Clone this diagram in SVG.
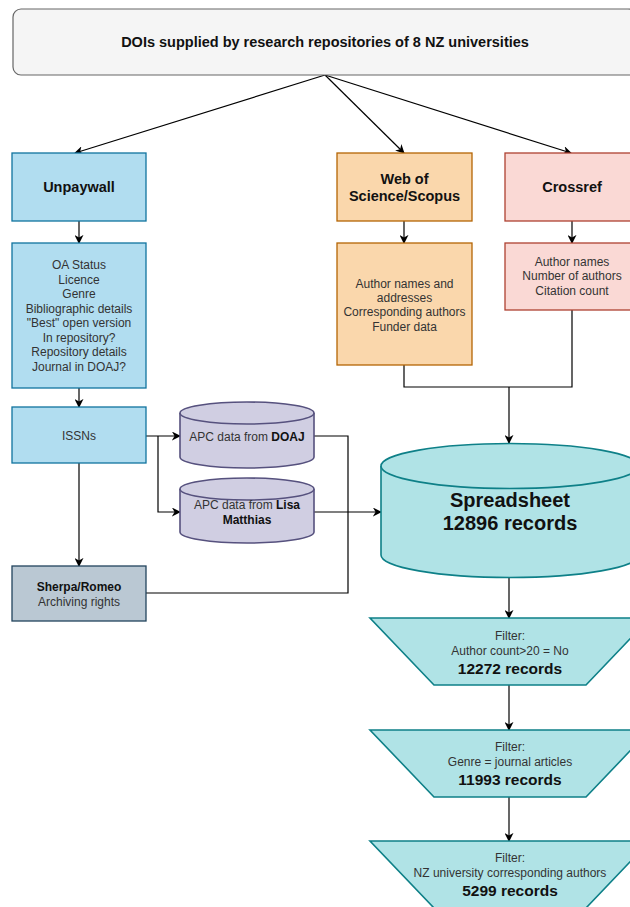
<svg xmlns="http://www.w3.org/2000/svg" width="630" height="907" viewBox="0 0 630 907">
<defs>
<marker id="arr" viewBox="0 0 10 10" refX="9" refY="5" markerWidth="9" markerHeight="9" markerUnits="userSpaceOnUse" orient="auto">
<path d="M0,0 L10,5 L0,10 L3,5 Z" fill="#000"/>
</marker>
<style>
text{font-family:"Liberation Sans",Arial,sans-serif;text-anchor:middle;fill:#333}
.t{font-size:14.5px;font-weight:bold;fill:#111}
.d{font-size:12px}
.b{font-weight:bold;fill:#111}
.big{font-size:20px;font-weight:bold;fill:#111}
.rec{font-size:15.5px;font-weight:bold;fill:#111}
.blue{fill:#b1ddf0;stroke:#10739e;stroke-width:1.3}
.org{fill:#fad7ac;stroke:#b46504;stroke-width:1.3}
.red{fill:#fad9d5;stroke:#ae4132;stroke-width:1.3}
.pur{fill:#d0cee2;stroke:#56517e;stroke-width:1.6}
.teal{fill:#b0e3e6;stroke:#0e8088;stroke-width:1.6}
.gry{fill:#bac8d3;stroke:#23445d;stroke-width:1.3}
.c{fill:none;stroke:#000;stroke-width:1.2}
</style>
</defs>

<g id="connectors">
<line class="c" x1="325" y1="75" x2="75" y2="153" marker-end="url(#arr)"/>
<line class="c" x1="325" y1="75" x2="404" y2="153" marker-end="url(#arr)"/>
<line class="c" x1="325" y1="75" x2="571" y2="153" marker-end="url(#arr)"/>
<line class="c" x1="79" y1="221" x2="79" y2="243" marker-end="url(#arr)"/>
<line class="c" x1="404" y1="221" x2="404" y2="243" marker-end="url(#arr)"/>
<line class="c" x1="572" y1="221" x2="572" y2="243" marker-end="url(#arr)"/>
<line class="c" x1="79" y1="388" x2="79" y2="407" marker-end="url(#arr)"/>
<polyline class="c" points="404,365 404,387 572,387 572,310"/>
<line class="c" x1="509" y1="387" x2="509" y2="443" marker-end="url(#arr)"/>
<line class="c" x1="146" y1="436" x2="180" y2="436" marker-end="url(#arr)"/>
<polyline class="c" points="158,436 158,512 180,512" marker-end="url(#arr)"/>
<line class="c" x1="79" y1="463" x2="79" y2="566" marker-end="url(#arr)"/>
<polyline class="c" points="314,436 348,436 348,593 146,593"/>
<line class="c" x1="314" y1="512" x2="381" y2="512" marker-end="url(#arr)"/>
<line class="c" x1="509" y1="578" x2="509" y2="618" marker-end="url(#arr)"/>
<line class="c" x1="509" y1="685" x2="509" y2="730" marker-end="url(#arr)"/>
<line class="c" x1="509" y1="797" x2="509" y2="841" marker-end="url(#arr)"/>
</g>

<g id="top">
<rect x="13" y="9" width="623" height="66" rx="8" fill="#f5f5f5" stroke="#666" stroke-width="1.2"/>
<text class="t" x="325" y="47">DOIs supplied by research repositories of 8 NZ universities</text>
</g>

<g id="unpaywall">
<rect class="blue" x="12" y="153" width="134" height="68"/>
<text class="t" x="79" y="192">Unpaywall</text>
</g>
<g id="unpaywall-data">
<rect class="blue" x="12" y="243" width="134" height="145"/>
<text class="d"><tspan x="79" y="269">OA Status</tspan><tspan x="79" y="283.5">Licence</tspan><tspan x="79" y="298">Genre</tspan><tspan x="79" y="312.5">Bibliographic details</tspan><tspan x="79" y="327">"Best" open version</tspan><tspan x="79" y="341.5">In repository?</tspan><tspan x="79" y="356">Repository details</tspan><tspan x="79" y="370.5">Journal in DOAJ?</tspan></text>
</g>

<g id="wos">
<rect class="org" x="337" y="153" width="135" height="68"/>
<text class="t"><tspan x="404.5" y="184">Web of</tspan><tspan x="404.5" y="201">Science/Scopus</tspan></text>
</g>
<g id="wos-data">
<rect class="org" x="337" y="243" width="135" height="122"/>
<text class="d"><tspan x="404.5" y="287.5">Author names and</tspan><tspan x="404.5" y="302">addresses</tspan><tspan x="404.5" y="316">Corresponding authors</tspan><tspan x="404.5" y="330.5">Funder data</tspan></text>
</g>

<g id="crossref">
<rect class="red" x="505" y="153" width="134" height="68"/>
<text class="t" x="572" y="192">Crossref</text>
</g>
<g id="crossref-data">
<rect class="red" x="505" y="243" width="134" height="67"/>
<text class="d"><tspan x="572" y="265.5">Author names</tspan><tspan x="572" y="280">Number of authors</tspan><tspan x="572" y="294.5">Citation count</tspan></text>
</g>

<g id="issns">
<rect class="blue" x="12" y="407" width="134" height="56"/>
<text class="d" x="79" y="440">ISSNs</text>
</g>

<g id="doaj">
<path class="pur" d="M180,413 A67,11 0 0 1 314,413 V457 A67,11 0 0 1 180,457 Z"/>
<path class="pur" fill="none" d="M180,413 A67,11 0 0 0 314,413"/>
<text class="d" x="247" y="441">APC data from <tspan class="b">DOAJ</tspan></text>
</g>

<g id="lisa">
<path class="pur" d="M180,489 A67,11 0 0 1 314,489 V532 A67,11 0 0 1 180,532 Z"/>
<path class="pur" fill="none" d="M180,489 A67,11 0 0 0 314,489"/>
<text class="d"><tspan x="247" y="509">APC data from <tspan class="b">Lisa</tspan></tspan><tspan class="b" x="247" y="523.5">Matthias</tspan></text>
</g>

<g id="sherpa">
<rect class="gry" x="12" y="566" width="134" height="55"/>
<text class="d"><tspan class="b" x="79" y="591">Sherpa/Romeo</tspan><tspan x="79" y="605.5">Archiving rights</tspan></text>
</g>

<g id="spreadsheet">
<path class="teal" d="M381,466 A129,22.5 0 0 1 639,466 V555 A129,22.5 0 0 1 381,555 Z"/>
<path class="teal" fill="none" d="M381,466 A129,22.5 0 0 0 639,466"/>
<text class="big"><tspan x="510" y="507">Spreadsheet</tspan><tspan x="510" y="530">12896 records</tspan></text>
</g>

<g id="filter1">
<polygon class="teal" points="370,618 650,618 586,685 434,685"/>
<text class="d"><tspan x="510" y="640">Filter:</tspan><tspan x="510" y="655">Author count&gt;20 = No</tspan></text>
<text class="rec" x="510" y="673.5">12272 records</text>
</g>

<g id="filter2">
<polygon class="teal" points="370,730 650,730 586,797 434,797"/>
<text class="d"><tspan x="510" y="751">Filter:</tspan><tspan x="510" y="766">Genre = journal articles</tspan></text>
<text class="rec" x="510" y="784.5">11993 records</text>
</g>

<g id="filter3">
<polygon class="teal" points="370,841 650,841 586,908 434,908"/>
<text class="d"><tspan x="510" y="862">Filter:</tspan><tspan x="510" y="877">NZ university corresponding authors</tspan></text>
<text class="rec" x="510" y="895.5">5299 records</text>
</g>
</svg>
